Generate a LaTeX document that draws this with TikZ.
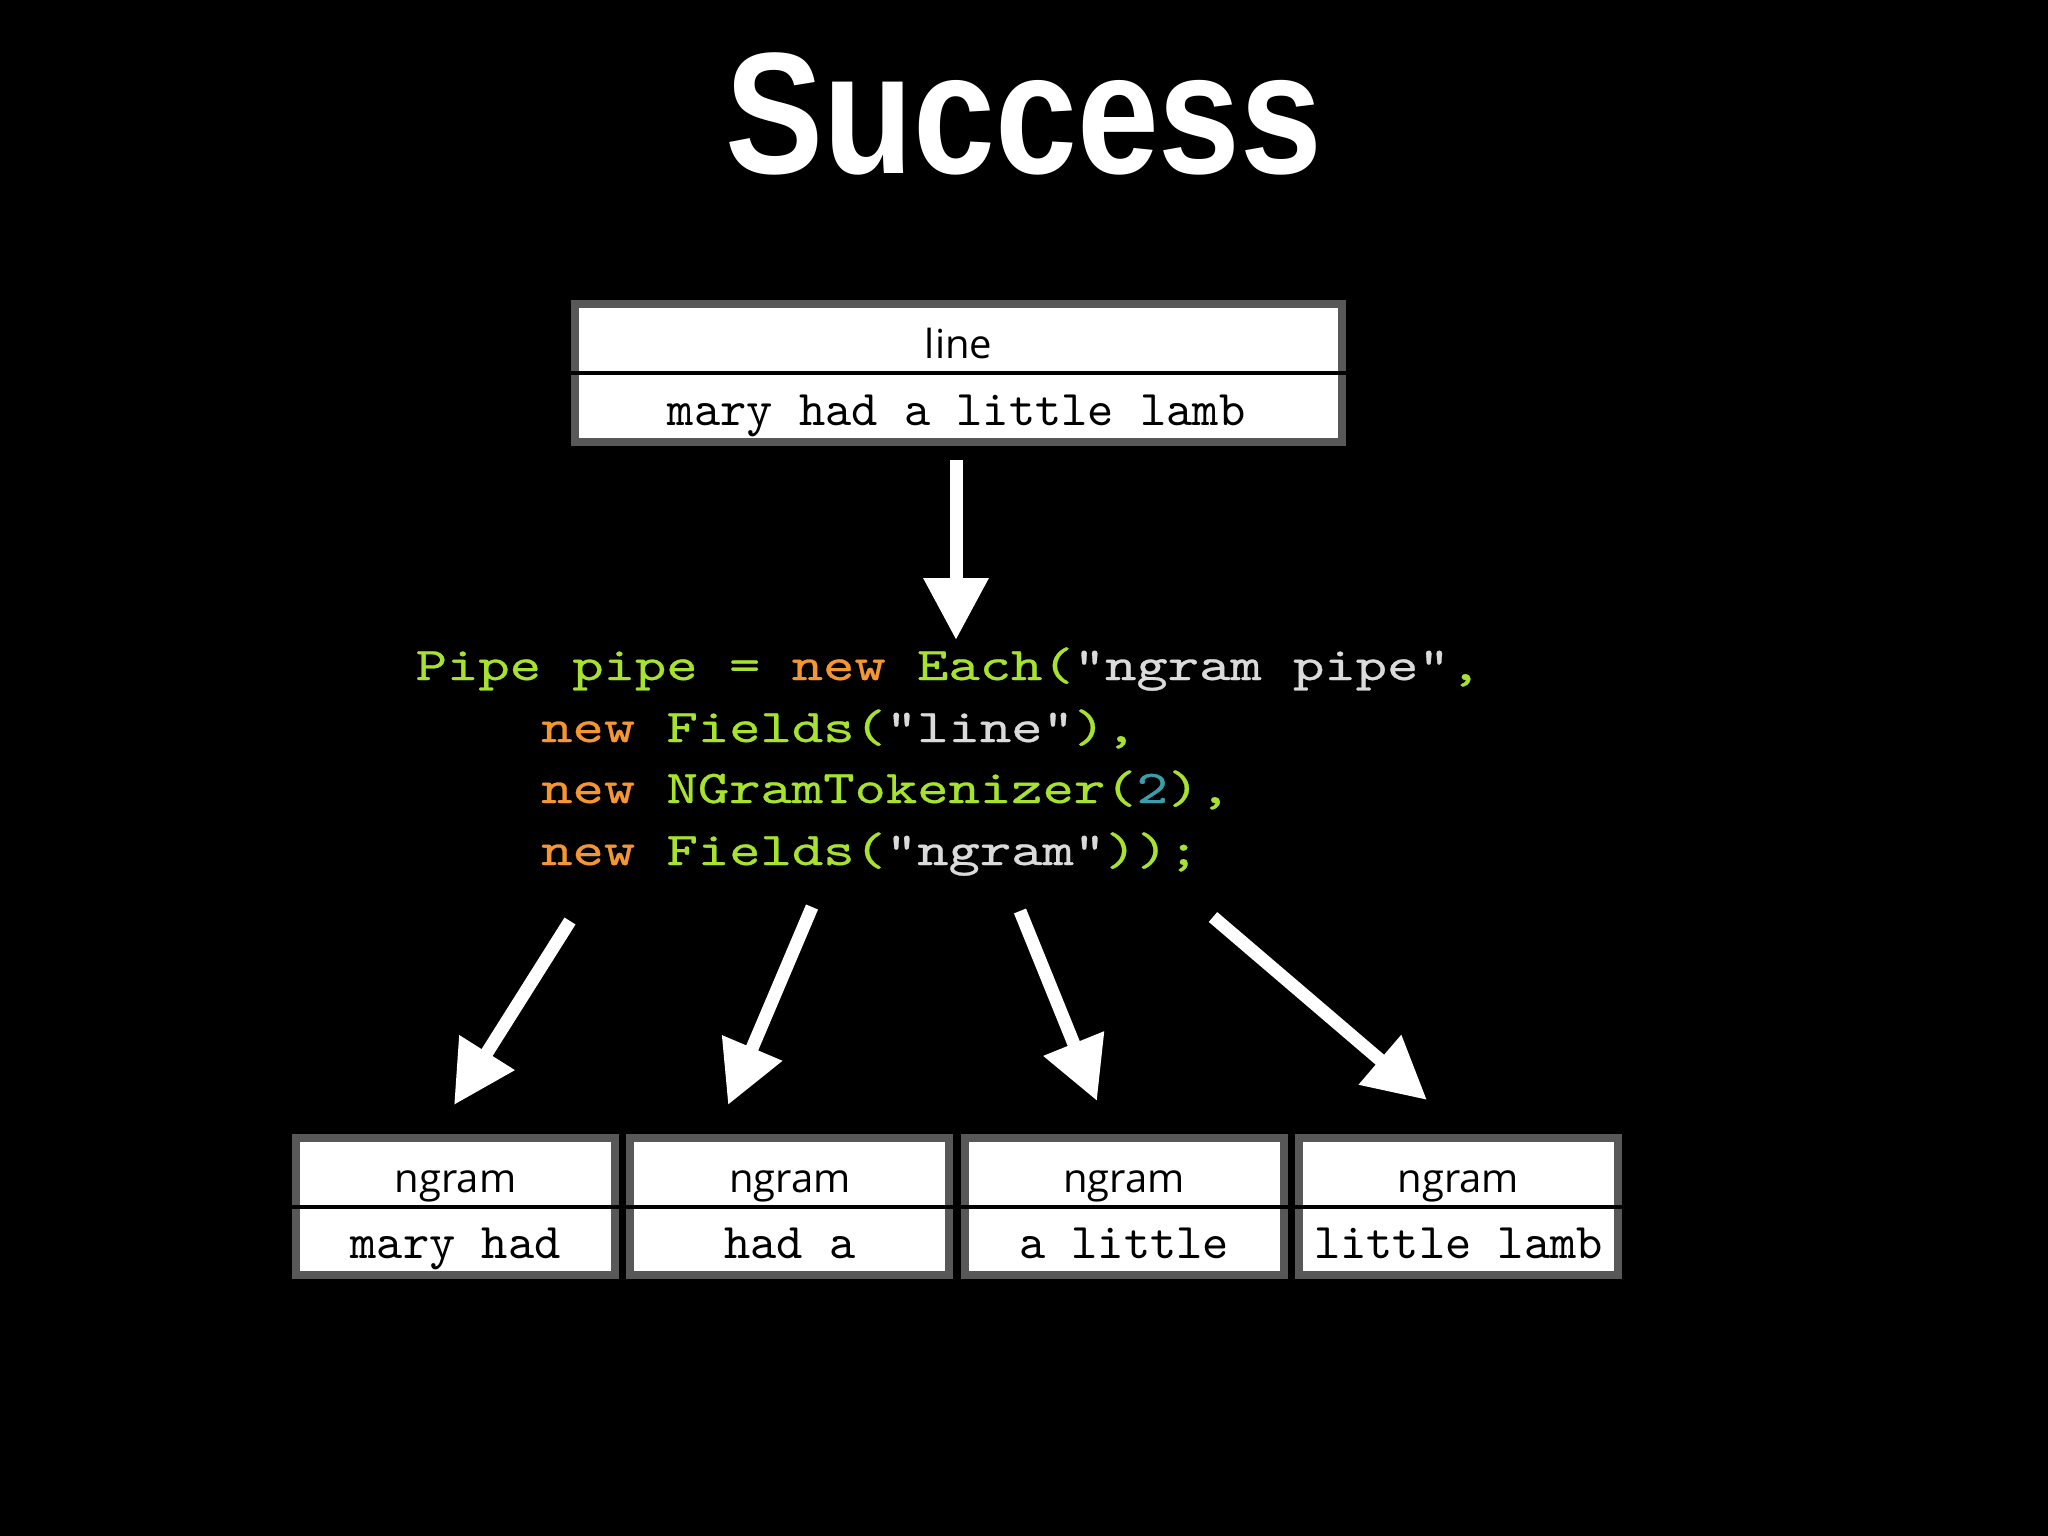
\documentclass[tikz,border=0pt]{standalone}
\usepackage{fontspec}
\usepackage{graphicx}
\usetikzlibrary{arrows.meta}
\newfontfamily\titlefont{Liberation Sans}
\newfontfamily\labelfont{Open Sans}
\newfontfamily\boxmono{lmmono10-regular.otf}
\newfontfamily\codemono{lmmono10-regular.otf}[FakeStretch=1.27,FakeBold=0.6]
\definecolor{cgreen}{RGB}{166,226,46}
\definecolor{corange}{RGB}{245,150,50}
\definecolor{cstr}{RGB}{218,218,218}
\definecolor{cnum}{RGB}{58,158,170}
\definecolor{boxgray}{RGB}{88,88,88}
\newcommand\codekw[1]{\textcolor{corange}{#1}}
\newcommand\codestr[1]{\textcolor{cstr}{#1}}
\newcommand\codenum[1]{\textcolor{cnum}{#1}}
\tikzset{
  recbox/.style={draw=boxgray, line width=8pt, fill=white, inner sep=0pt},
  divider/.style={draw=black, line width=4pt},
  lab/.style={font=\labelfont\fontsize{40}{44}\selectfont, text=black, inner sep=0pt, anchor=base},
  boxtxt/.style={font=\boxmono\fontsize{50}{56}\selectfont, text=black, inner sep=0pt, anchor=base},
  code/.style={font=\codemono\fontsize{47}{56}\selectfont, text=cgreen, inner sep=0pt, anchor=base west},
  bigarrow/.style={draw=white, line width=13pt, -{Triangle[length=62pt,width=62pt]}},
}
\begin{document}
\begin{tikzpicture}[x=1pt,y=-1pt]
\fill[black] (0,0) rectangle (2048,1536);
\useasboundingbox (0,0) rectangle (2048,1536);

% title
\node[inner sep=0pt, anchor=base, text=white, font=\titlefont\bfseries\fontsize{173}{190}\selectfont] (title) at (1024,173) {\scalebox{0.85}[1]{Success}};

% top record box
\node[recbox, minimum width=767pt, minimum height=138pt] (topbox) at (958.5,373) {};
\draw[divider] (topbox.west) -- (topbox.east);
\node[lab] (linelab) at (958.5,358) {line};
\node[boxtxt] (lineval) at (956.5,425) {mary had a little lamb};

% top arrow
\coordinate (ta) at (956,460);
\coordinate (tb) at (956,640);
\draw[bigarrow] (ta) -- (tb);

% code
\node[code] (c1) at (415.5,680) {Pipe pipe = \codekw{new} Each(\codestr{"ngram pipe"},};
\node[code] (c2) at (541,742) {\codekw{new} Fields(\codestr{"line"}),};
\node[code] (c3) at (541,803) {\codekw{new} NGramTokenizer(\codenum{2}),};
\node[code] (c4) at (541,865) {\codekw{new} Fields(\codestr{"ngram"}));};

% bottom arrows
\coordinate (a0s) at (570,921);  \coordinate (a0e) at (454,1105);
\coordinate (a1s) at (812,907);  \coordinate (a1e) at (728,1105);
\coordinate (a2s) at (1020,911); \coordinate (a2e) at (1097,1101);
\coordinate (a3s) at (1213,917); \coordinate (a3e) at (1427,1100);
\foreach \i in {0,1,2,3} {\draw[bigarrow] (a\i s) -- (a\i e);}

% bottom record boxes
\foreach \i/\txt in {0/{mary had},1/{had a},2/{a little},3/{little lamb}} {
  \pgfmathsetmacro\cx{455.5+334.3*\i}
  \node[recbox, minimum width=319pt, minimum height=137pt] (b\i) at (\cx,1206.5) {};
  \draw[divider] (b\i.west) -- (b\i.east);
  \node[lab] (n\i) at (\cx,1192) {ngram};
  \node[boxtxt] (v\i) at (\cx,1258) {\txt};
}
\end{tikzpicture}
\end{document}
